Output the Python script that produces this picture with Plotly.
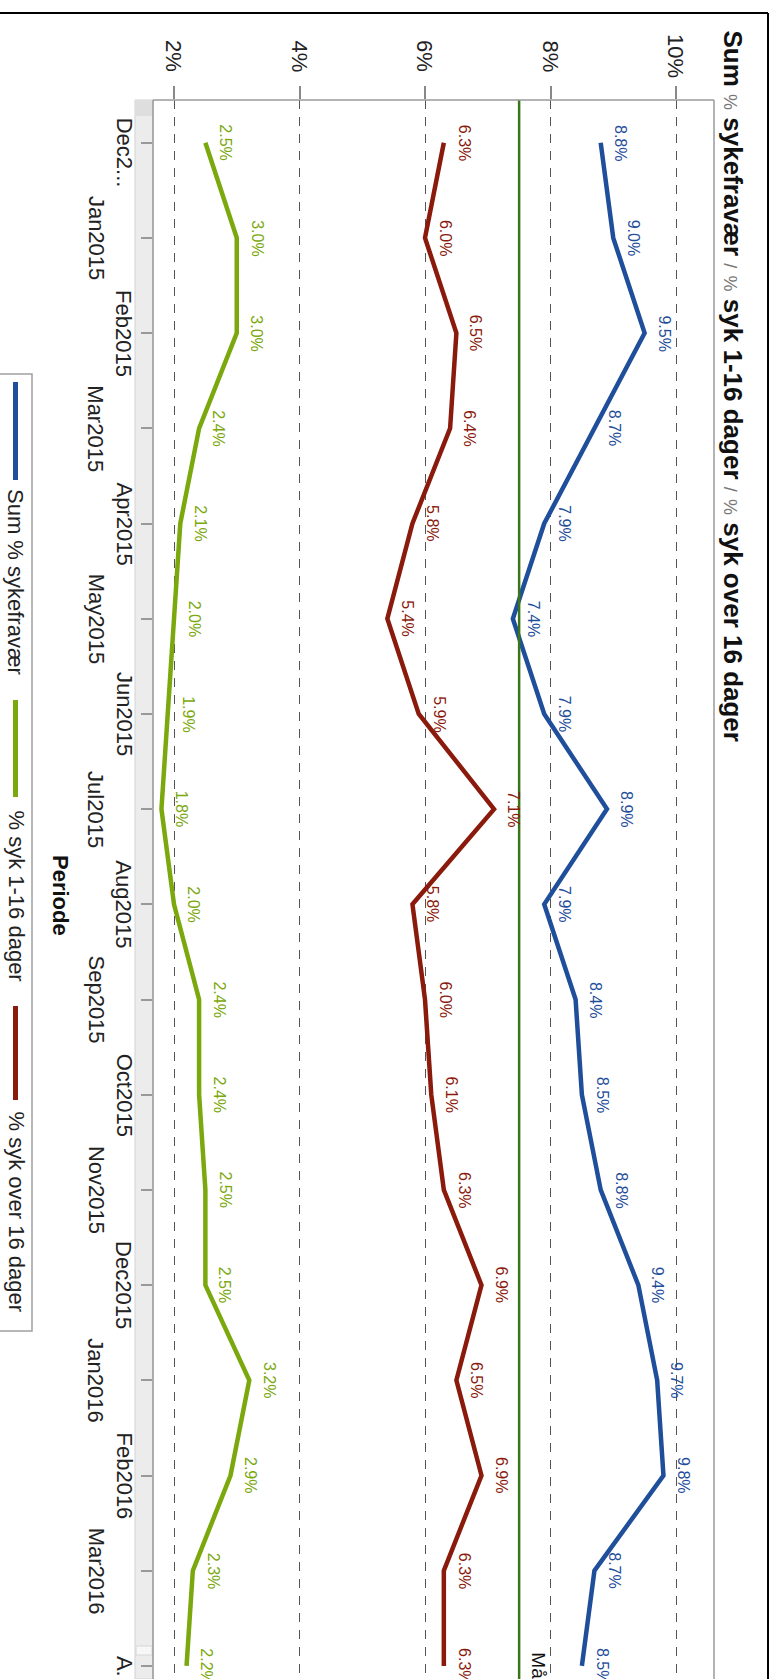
import plotly.graph_objects as go

# Periods (Dec 2014 - Apr 2016) and the text drawn beside each tick
periods = ["Dec2014", "Jan2015", "Feb2015", "Mar2015", "Apr2015", "May2015",
           "Jun2015", "Jul2015", "Aug2015", "Sep2015", "Oct2015", "Nov2015",
           "Dec2015", "Jan2016", "Feb2016", "Mar2016", "Apr2016"]
period_labels = ["Dec2...", "Jan2015", "Feb2015", "Mar2015", "Apr2015", "May2015",
                 "Jun2015", "Jul2015", "Aug2015", "Sep2015", "Oct2015", "Nov2015",
                 "Dec2015", "Jan2016", "Feb2016", "Mar2016", "A."]

# Sickness absence in percent
sum_total = [8.8, 9.0, 9.5, 8.7, 7.9, 7.4, 7.9, 8.9, 7.9, 8.4, 8.5, 8.8, 9.4, 9.7, 9.8, 8.7, 8.5]
short_term = [2.5, 3.0, 3.0, 2.4, 2.1, 2.0, 1.9, 1.8, 2.0, 2.4, 2.4, 2.5, 2.5, 3.2, 2.9, 2.3, 2.2]
long_term = [6.3, 6.0, 6.5, 6.4, 5.8, 5.4, 5.9, 7.1, 5.8, 6.0, 6.1, 6.3, 6.9, 6.5, 6.9, 6.3, 6.3]

target = 7.5
pct_ticks = [2, 4, 6, 8, 10]
pct_labels = ["2%", "4%", "6%", "8%", "10%"]

series = [
    ("Sum % sykefravær", sum_total, "#1f4e9b"),
    ("% syk 1-16 dager", short_term, "#7aa80d"),
    ("% syk over 16 dager", long_term, "#8a1a0c"),
]

W, H = 776, 1679
PL, PR, PT, PB = 153, 714, 100, 1679  # plot area in page pixels
FONT = "Liberation Sans, Arial, sans-serif"


def px(xp):
    return (xp - PL) / (PR - PL)


def py(yp):
    return 1 - (yp - PT) / (PB - PT)


fig = go.Figure()

for name, vals, color in series:
    fig.add_trace(go.Scatter(
        x=vals, y=periods, mode="lines", name=name,
        line=dict(color=color, width=4.5), showlegend=False,
        hoverinfo="x+y"))

annotations = []
shapes = []

# value labels beside every point
for name, vals, color in series:
    for p, v in zip(periods, vals):
        annotations.append(dict(
            x=v, y=p, xref="x", yref="y", text=f"{v:.1f}%", showarrow=False,
            textangle=90, xshift=20, xanchor="center", yanchor="middle",
            font=dict(family=FONT, size=16, color=color)))

# period labels, staggered in two rows
for i, (p, lab) in enumerate(zip(periods, period_labels)):
    xpix = 124 if i % 2 == 0 else 96
    annotations.append(dict(
        x=px(xpix), y=p, xref="paper", yref="y", text=lab, showarrow=False,
        textangle=90, xanchor="center", yanchor="middle",
        yshift=-10 if i == 0 else 0,
        font=dict(family=FONT, size=22, color="#222")))

# percent labels along the top
for t, lab in zip(pct_ticks, pct_labels):
    annotations.append(dict(
        x=t, y=py(56), xref="x", yref="paper", text=lab, showarrow=False,
        textangle=90, xanchor="center", yanchor="middle",
        font=dict(family=FONT, size=22, color="#222")))

# chart title
pct = "<span style='color:#777;font-size:18px'>%</span>"
sl = "<span style='color:#777;font-size:18px'>/</span>"
title = (f"<b>Sum</b> {pct} <b>sykefravær</b> {sl} {pct} <b>syk 1-16 dager</b> "
         f"{sl} {pct} <b>syk over 16 dager</b>")
annotations.append(dict(
    x=px(732), y=py(28), xref="paper", yref="paper", text=title, showarrow=False,
    textangle=90, xanchor="center", yanchor="top",
    font=dict(family=FONT, size=26, color="#111")))

# axis title
annotations.append(dict(
    x=px(61), y=py(895), xref="paper", yref="paper", text="<b>Periode</b>",
    showarrow=False, textangle=90, xanchor="center", yanchor="middle",
    font=dict(family=FONT, size=22, color="#111")))

# target line label
annotations.append(dict(
    x=target, y=py(1650), xref="x", yref="paper", text="Mål", showarrow=False,
    textangle=90, xshift=19, xanchor="center", yanchor="top",
    font=dict(family=FONT, size=19, color="#111")))

# target line
shapes.append(dict(type="line", xref="x", yref="paper", x0=target, x1=target,
                   y0=0, y1=1, line=dict(color="#3b7419", width=2.5), layer="above"))

# scroll strip beside the period axis
shapes.append(dict(type="rect", xref="paper", yref="paper", x0=px(135), x1=px(153),
                   y0=py(PB), y1=py(100), fillcolor="#ececec",
                   line=dict(color="#d2d2d2", width=1), layer="below"))
shapes.append(dict(type="rect", xref="paper", yref="paper", x0=px(135), x1=px(153),
                   y0=py(116), y1=py(100), fillcolor="#dedede",
                   line=dict(width=0), layer="below"))
shapes.append(dict(type="rect", xref="paper", yref="paper", x0=px(136), x1=px(152),
                   y0=py(1655), y1=py(1646), fillcolor="#f7f7f7",
                   line=dict(color="#d6d6d6", width=1), layer="below"))

# plot frame
shapes.append(dict(type="line", xref="paper", yref="paper", x0=0, x1=1, y0=1, y1=1,
                   line=dict(color="#9a9a9a", width=1.5)))
shapes.append(dict(type="line", xref="paper", yref="paper", x0=0, x1=0, y0=0, y1=1,
                   line=dict(color="#9a9a9a", width=1.5)))
shapes.append(dict(type="line", xref="paper", yref="paper", x0=1, x1=1, y0=0, y1=1,
                   line=dict(color="#9a9a9a", width=1.5)))

# outer border
shapes.append(dict(type="line", xref="paper", yref="paper", x0=px(0), x1=px(768),
                   y0=py(13), y1=py(13), line=dict(color="#000", width=2)))
shapes.append(dict(type="line", xref="paper", yref="paper", x0=px(768), x1=px(768),
                   y0=py(13), y1=py(H + 5), line=dict(color="#000", width=2)))

# legend box
shapes.append(dict(type="rect", xref="paper", yref="paper", x0=px(-2), x1=px(32),
                   y0=py(1331), y1=py(374), fillcolor="#fff",
                   line=dict(color="#a0a0a0", width=1.5)))
legend_pos = [(382, 480, 487), (700, 797, 808), (1006, 1100, 1109)]
for (name, _, color), (s0, s1, t0) in zip(series, legend_pos):
    shapes.append(dict(type="line", xref="paper", yref="paper", x0=px(15.5), x1=px(15.5),
                       y0=py(s0), y1=py(s1), line=dict(color=color, width=5)))
    annotations.append(dict(
        x=px(16), y=py(t0), xref="paper", yref="paper", text=name, showarrow=False,
        textangle=90, xanchor="center", yanchor="top",
        font=dict(family=FONT, size=22, color="#222")))

y_top = -(142.7 - PT) / 95.2
y_bot = 16 + (PB - (142.7 + 16 * 95.2)) / 95.2
x_lo = 2 - (174 - PL) / 62.75
x_hi = 10 + (PR - 676) / 62.75

fig.update_layout(
    width=W, height=H,
    margin=dict(l=PL, r=W - PR, t=PT, b=H - PB, pad=0),
    paper_bgcolor="#ffffff", plot_bgcolor="#ffffff",
    showlegend=False,
    annotations=annotations, shapes=shapes,
    xaxis=dict(
        side="top", range=[x_lo, x_hi], tickvals=pct_ticks, showticklabels=False,
        ticks="outside", ticklen=13, tickcolor="#888", tickwidth=1.5,
        showgrid=True, gridcolor="#555", gridwidth=1, griddash="9px,8px",
        zeroline=False, showline=False),
    yaxis=dict(
        type="category", categoryorder="array", categoryarray=periods,
        range=[y_bot, y_top], showticklabels=False,
        ticks="outside", ticklen=11, tickcolor="#999", tickwidth=1.5,
        showgrid=False, zeroline=False, showline=False),
)

fig.write_html("out.html")
